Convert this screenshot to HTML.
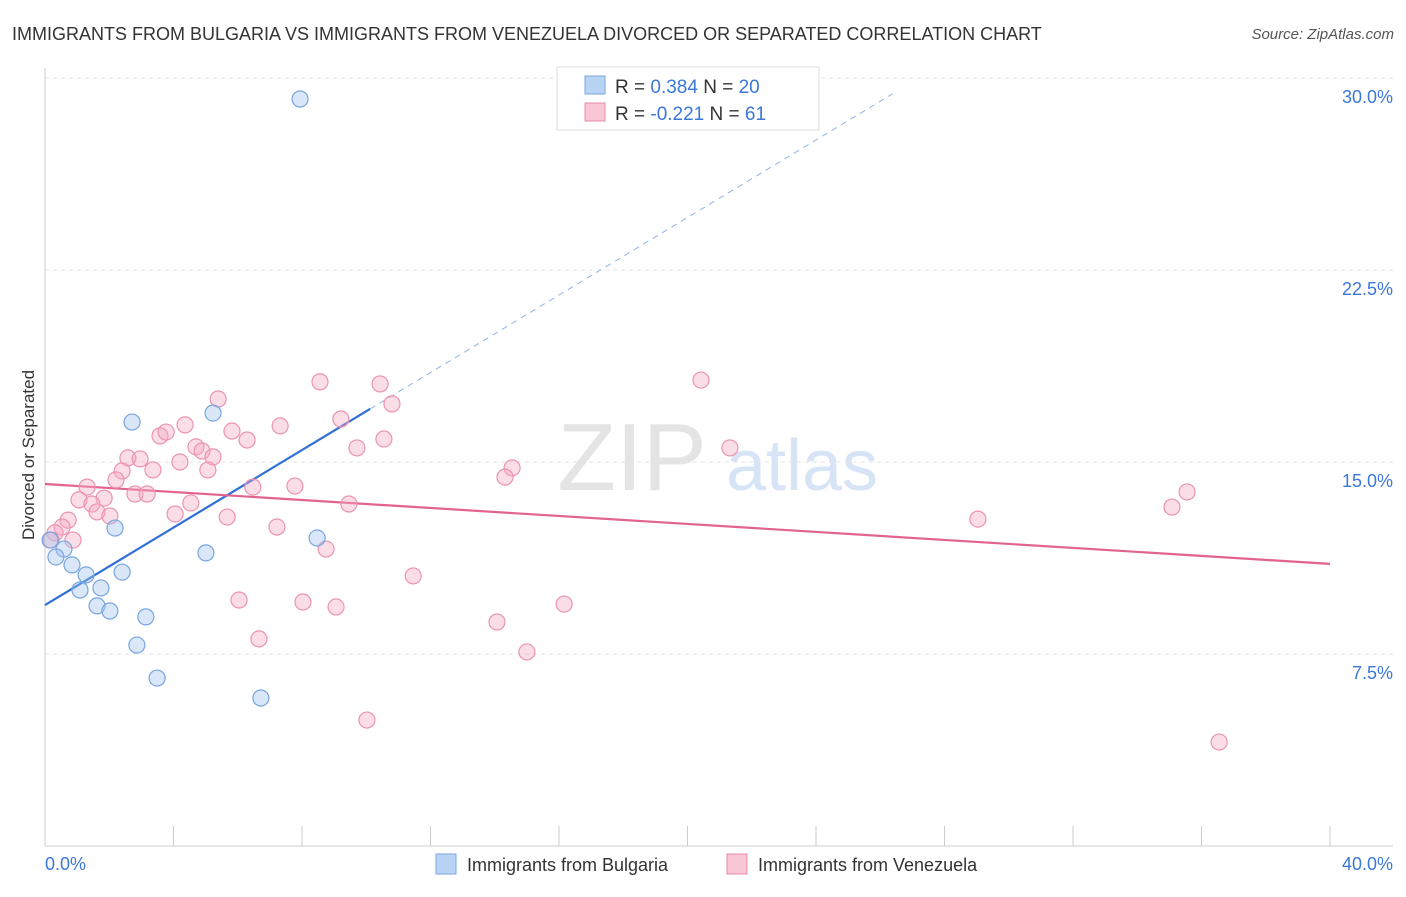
<!DOCTYPE html>
<html><head><meta charset="utf-8"><style>
body{margin:0;background:#fff;font-family:"Liberation Sans",sans-serif;}
svg text{font-family:"Liberation Sans",sans-serif;}
</style></head><body>
<svg width="1406" height="892" viewBox="0 0 1406 892">
<text x="12" y="40" font-size="18" fill="#333">IMMIGRANTS FROM BULGARIA VS IMMIGRANTS FROM VENEZUELA DIVORCED OR SEPARATED CORRELATION CHART</text>
<text x="1394" y="39" font-size="15" fill="#555" font-style="italic" text-anchor="end">Source: ZipAtlas.com</text>
<g>
<text x="632" y="490" font-size="96" fill="#e4e4e4" font-family="Liberation Serif" text-anchor="middle">ZIP</text>
<text x="802" y="490" font-size="72" fill="#d6e4f5" text-anchor="middle">atlas</text>
</g>
<g id="grid"></g>
<g id="axes"></g>
<g id="lines"></g>
<g id="points"></g>
<text x="34" y="455" font-size="17" fill="#333" text-anchor="middle" transform="rotate(-90 34 455)">Divorced or Separated</text>
<g>
<rect x="557" y="67" width="262" height="63" fill="#fff" stroke="#ddd"/>
<rect x="585" y="76" width="20" height="18" fill="#b9d3f5" stroke="#7aa7e0"/>
<rect x="585" y="103" width="20" height="18" fill="#f9c6d5" stroke="#e98aa8"/>
<text x="615" y="93" font-size="19" fill="#333">R = <tspan fill="#3b78d8">0.384</tspan>   N = <tspan fill="#3b78d8">20</tspan></text>
<text x="615" y="120" font-size="19" fill="#333">R = <tspan fill="#3b78d8">-0.221</tspan>   N =  <tspan fill="#3b78d8">61</tspan></text>
</g>
<g>
<rect x="436" y="854" width="20" height="20" fill="#b9d3f5" stroke="#7aa7e0"/>
<text x="467" y="871" font-size="18" fill="#333">Immigrants from Bulgaria</text>
<rect x="727" y="854" width="20" height="20" fill="#f9c6d5" stroke="#e98aa8"/>
<text x="758" y="871" font-size="18" fill="#333">Immigrants from Venezuela</text>
</g>
</svg>
<script>
const yTicks=[7.5,15,22.5,30];
const yTickLabels=["7.5%","15.0%","22.5%","30.0%"];
const xTicks=[0,4,8,12,16,20,24,28,32,36,40];
const xEndLabels=["0.0%","40.0%"];
const bulgariaX=[7.94,2.71,5.23,2.18,0.59,0.34,0.84,1.28,2.40,5.01,8.47,1.09,1.74,1.62,2.02,3.14,2.86,3.49,6.72,0.16];
const bulgariaY=[29.18,16.56,16.91,12.42,11.60,11.29,10.98,10.59,10.70,11.45,12.03,10.00,10.08,9.38,9.18,8.95,7.85,6.56,5.78,11.95];
const venezuelaX=[8.56,10.43,20.42,5.39,10.80,9.21,4.36,7.32,3.58,3.77,5.82,6.29,10.55,9.71,21.32,4.70,4.89,2.58,2.96,5.23,4.20,3.36,2.40,5.07,14.54,14.32,2.21,1.31,6.47,7.78,2.80,3.18,1.84,1.06,4.54,1.46,9.46,35.55,35.08,1.62,2.02,4.05,5.67,0.72,0.53,7.22,29.04,0.31,0.19,0.87,8.75,11.46,6.04,8.03,9.06,16.16,14.07,6.66,15.00,10.02,36.55];
const venezuelaY=[18.13,18.05,18.20,17.46,17.27,16.68,16.45,16.41,16.02,16.17,16.21,15.86,15.90,15.55,15.55,15.59,15.43,15.16,15.12,15.20,15.00,14.69,14.65,14.69,14.77,14.41,14.30,14.02,14.02,14.06,13.75,13.75,13.59,13.52,13.40,13.36,13.36,13.83,13.24,13.05,12.89,12.97,12.85,12.73,12.46,12.46,12.77,12.23,11.95,11.95,11.60,10.55,9.61,9.53,9.34,9.45,8.75,8.09,7.58,4.92,4.06];
const bulgariaTrend=[9.41,0.757]; // intercept, slope
const venezuelaTrend=[14.14,-0.078];

const NS="http://www.w3.org/2000/svg";
const sx=v=>45+v*32.125, sy=v=>846-v*25.6;
function mk(tag,attrs,parent){const e=document.createElementNS(NS,tag);for(const k in attrs)e.setAttribute(k,attrs[k]);document.getElementById(parent).appendChild(e);return e;}
yTicks.forEach((t,i)=>{
 const g=mk('line',{x1:45,x2:1393,y1:sy(t),y2:sy(t),stroke:'#e3e3e3','stroke-dasharray':'4,4'},'grid');
 
 
 const l=mk('text',{x:1393,y:sy(t)+25,'font-size':18,fill:'#3b78d8','text-anchor':'end'},'axes');
 l.textContent=yTickLabels[i];
 
 
});
const xa=mk('line',{x1:45,x2:1393,y1:846,y2:846,stroke:'#ccc'},'axes');


const ya=mk('line',{x1:45,x2:45,y1:68,y2:846,stroke:'#ccc'},'axes');


xTicks.forEach(t=>{
 const tk=mk('line',{x1:sx(t),x2:sx(t),y1:826,y2:846,stroke:'#ccc'},'axes');
 
 
});
[[0,'start',45],[40,'end',1393]].forEach((d,i)=>{
 const l=mk('text',{x:d[2],y:870,'font-size':18,fill:'#3b78d8','text-anchor':d[1]},'axes');
 l.textContent=xEndLabels[i];
 
 
});
// trend lines
const bEnd=10.12, bDashEnd=(30-bulgariaTrend[0])/bulgariaTrend[1]*0.97;
let t1=mk('line',{x1:sx(0),y1:sy(bulgariaTrend[0]),x2:sx(bEnd),y2:sy(bulgariaTrend[0]+bulgariaTrend[1]*bEnd),stroke:'#2f6fd6','stroke-width':2.2},'lines');


let t2=mk('line',{x1:sx(bEnd),y1:sy(bulgariaTrend[0]+bulgariaTrend[1]*bEnd),x2:sx(bDashEnd),y2:sy(bulgariaTrend[0]+bulgariaTrend[1]*bDashEnd),stroke:'#8fb3e6','stroke-width':1,'stroke-dasharray':'6,5'},'lines');


let t3=mk('line',{x1:sx(0),y1:sy(venezuelaTrend[0]),x2:sx(40),y2:sy(venezuelaTrend[0]+venezuelaTrend[1]*40),stroke:'#e2648e','stroke-width':2.2},'lines');


venezuelaX.forEach((x,i)=>{
 const c=mk('circle',{cx:sx(x),cy:sy(venezuelaY[i]),r:8,fill:'rgba(245,170,195,0.4)',stroke:'#eb93b0','stroke-width':1.2},'points');
 
 
});
bulgariaX.forEach((x,i)=>{
 const c=mk('circle',{cx:sx(x),cy:sy(bulgariaY[i]),r:8,fill:'rgba(160,195,240,0.4)',stroke:'#78a5df','stroke-width':1.2},'points');
 
 
});
</script>
</body></html>
